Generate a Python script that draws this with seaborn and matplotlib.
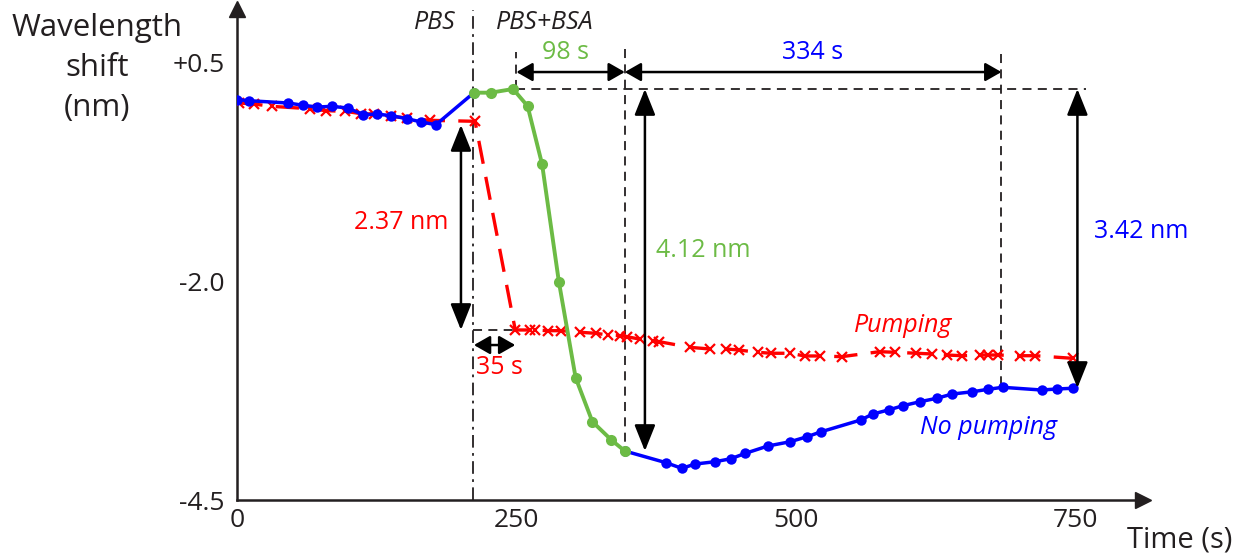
import matplotlib.pyplot as plt
import seaborn as sns

sns.set_style("white")
plt.rcParams["font.family"] = ["Open Sans", "DejaVu Sans"]

# ---- data (time in s, shift in nm) ----
time_blue_pre = [0, 11, 46, 59, 72, 85, 99, 113, 125, 138, 152, 165, 178]
shift_blue_pre = [0.075, 0.063, 0.037, 0.011, -0.009, -0.001, -0.020, -0.097,
                  -0.089, -0.108, -0.142, -0.180, -0.211]

time_green = [212, 227, 247, 260, 273, 288, 303, 318, 335, 347]
shift_green = [0.155, 0.155, 0.197, 0.003, -0.663, -2.005, -3.102, -3.605,
               -3.814, -3.940]

time_blue_post = [347, 384, 398, 410, 428, 442, 455, 475, 495, 510, 523, 558,
                  569, 583, 596, 611, 626, 640, 658, 672, 685, 720, 734, 748]
shift_blue_post = [-3.940, -4.074, -4.138, -4.089, -4.062, -4.028, -3.966,
                   -3.883, -3.834, -3.777, -3.719, -3.586, -3.517, -3.471,
                   -3.422, -3.377, -3.338, -3.289, -3.263, -3.235, -3.212,
                   -3.243, -3.231, -3.223]

time_red = [2, 15, 31, 65, 80, 97, 111, 123, 138, 152, 173, 213, 249, 262,
            267, 278, 290, 307, 321, 332, 343, 349, 361, 372, 378, 405, 423,
            438, 449, 466, 478, 495, 508, 522, 541, 575, 589, 608, 622, 635,
            649, 665, 672, 681, 701, 714, 748]
shift_red = [0.037, 0.026, -0.001, -0.028, -0.051, -0.058, -0.085, -0.089,
             -0.115, -0.134, -0.161, -0.172, -2.557, -2.557, -2.557, -2.565,
             -2.565, -2.583, -2.595, -2.614, -2.622, -2.634, -2.663, -2.683,
             -2.691, -2.755, -2.774, -2.774, -2.786, -2.812, -2.823, -2.823,
             -2.854, -2.854, -2.862, -2.805, -2.812, -2.823, -2.831, -2.843,
             -2.851, -2.843, -2.843, -2.843, -2.851, -2.851, -2.881]

xtick_vals = [0, 250, 500, 750]
ytick_vals = [0.5, -2.0, -4.5]
ytick_labels = ["+0.5", "-2.0", "-4.5"]

BLUE = "#0000ff"
RED = "#ff0000"
GREEN = "#6cbb45"
INK = "#231f20"
FS = 18

fig = plt.figure(figsize=(12.46, 5.54), dpi=100)
ax = fig.add_axes([237 / 1246, 1 - 500 / 554, (1140 - 237) / 1246, 490 / 554])

# ---- guide lines (drawn first, under the data) ----
ax.axvline(211.5, color=INK, lw=1.3, ls=(0, (7, 3, 1.5, 3)), zorder=1)
dash = dict(color=INK, lw=1.3, ls=(0, (5, 3.5)), zorder=1)
ax.plot([250, 760], [0.2, 0.2], **dash)
ax.plot([250, 250], [0.2, 0.62], **dash)
ax.plot([347, 347], [0.66, -3.94], **dash)
ax.plot([684, 684], [0.6, -3.21], **dash)
ax.plot([211.5, 249], [-2.557, -2.557], **dash)

# ---- series ----
sns.lineplot(x=time_red, y=shift_red, color=RED, lw=2.4, marker="x", ms=7,
             mec=RED, mew=1.6, sort=False, estimator=None, ax=ax, zorder=3)
ax.lines[-1].set_dashes([7, 4])

sns.lineplot(x=time_blue_pre + time_green[:1], y=shift_blue_pre + shift_green[:1],
             color=BLUE, lw=2.5, marker="o", ms=7.5, mec=BLUE, mew=0,
             sort=False, estimator=None, ax=ax, zorder=4)
sns.lineplot(x=time_blue_post, y=shift_blue_post, color=BLUE, lw=2.5,
             marker="o", ms=7.5, mec=BLUE, mew=0, sort=False, estimator=None,
             ax=ax, zorder=4)
sns.lineplot(x=time_green, y=shift_green, color=GREEN, lw=2.8, marker="o",
             ms=8, mec=GREEN, mew=0, sort=False, estimator=None, ax=ax, zorder=5)

# ---- dimension arrows ----
def dim_arrow(p0, p1, ms=20, hl=0.8, hw=0.32):
    ax.annotate("", xy=p1, xytext=p0,
                arrowprops=dict(arrowstyle=f"<|-|>,head_length={hl},head_width={hw}",
                                color="black", lw=1.8, mutation_scale=ms,
                                shrinkA=0, shrinkB=0), zorder=6)

dim_arrow((200.4, -0.214), (200.4, -2.557))
dim_arrow((365, 0.197), (365, -3.94))
dim_arrow((752, 0.197), (752, -3.22))
dim_arrow((212, -2.729), (249, -2.729), ms=14, hl=0.7, hw=0.4)
dim_arrow((250, 0.391), (347, 0.391), ms=14, hl=0.7, hw=0.4)
dim_arrow((347, 0.391), (684, 0.391), ms=14, hl=0.7, hw=0.4)

# ---- labels ----
ax.text(177.4, 0.96, "PBS", style="italic", color=INK, fontsize=18, ha="center", va="center")
ax.text(275.5, 0.96, "PBS+BSA", style="italic", color=INK, fontsize=18, ha="center", va="center")
ax.text(293.5, 0.61, "98 s", color=GREEN, fontsize=FS, ha="center", va="center")
ax.text(515, 0.61, "334 s", color=BLUE, fontsize=FS, ha="center", va="center")
ax.text(146.6, -1.323, "2.37 nm", color=RED, fontsize=FS, ha="center", va="center")
ax.text(417, -1.643, "4.12 nm", color=GREEN, fontsize=FS, ha="center", va="center")
ax.text(809, -1.437, "3.42 nm", color=BLUE, fontsize=FS, ha="center", va="center", clip_on=False)
ax.text(235, -2.99, "35 s", color=RED, fontsize=FS, ha="center", va="center")
ax.text(596, -2.5, "Pumping", style="italic", color=RED, fontsize=FS, ha="center", va="center")
ax.text(672, -3.666, "No pumping", style="italic", color=BLUE, fontsize=FS, ha="center", va="center")

for txt, yy in zip(["Wavelength", "shift", "(nm)"], [28, 68, 108]):
    fig.text(97 / 1246, 1 - yy / 554, txt, fontsize=22.5, color=INK, ha="center", va="center")
fig.text(1180 / 1246, 1 - 540 / 554, "Time (s)", fontsize=21, color=INK, ha="center", va="center")

# ---- axes styling ----
ax.set_xlim(0, 808)
ax.set_ylim(-4.5, 1.1)
ax.set_xticks(xtick_vals)
ax.set_xticklabels([str(v) for v in xtick_vals])
ax.set_yticks(ytick_vals)
ax.set_yticklabels(ytick_labels)
ax.tick_params(direction="in", length=11, width=1.6, colors=INK, labelsize=19)
ax.tick_params(axis="y", pad=9)
ax.tick_params(axis="x", pad=6)
for side in ["top", "right"]:
    ax.spines[side].set_visible(False)
for side in ["left", "bottom"]:
    ax.spines[side].set_linewidth(1.8)
    ax.spines[side].set_color(INK)
ax.set_xlabel("")
ax.set_ylabel("")
ax.plot(1.003, 0, ">", color=INK, ms=12, transform=ax.transAxes, clip_on=False)
ax.plot(0, 1.003, "^", color=INK, ms=12, transform=ax.transAxes, clip_on=False)

fig.savefig("out.png", dpi=100)
